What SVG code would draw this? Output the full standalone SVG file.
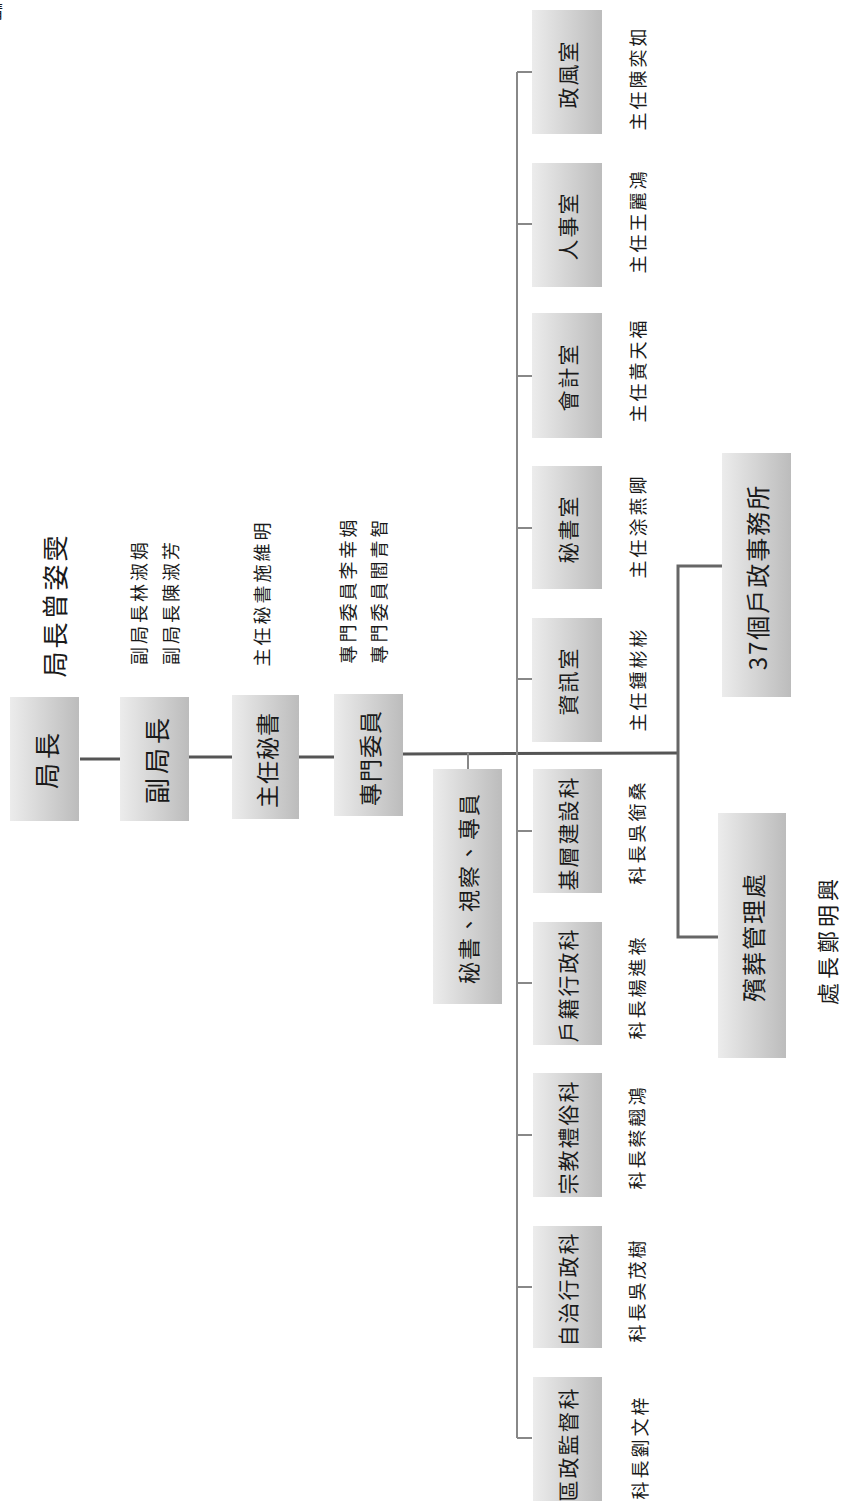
<svg xmlns="http://www.w3.org/2000/svg" width="843" height="1501" viewBox="0 0 843 1501">
<defs>
<linearGradient id="g" x1="0" y1="0" x2="1" y2="0">
<stop offset="0" stop-color="#ececec"/>
<stop offset="1" stop-color="#bcbcbc"/>
</linearGradient>
<style>
.box{fill:url(#g);}
.t{font-family:"Noto Sans CJK TC","Noto Sans CJK SC",sans-serif;fill:#1a1a1a;text-anchor:middle;dominant-baseline:central;}
.b1{font-size:26px;letter-spacing:4px;}
.b2{font-size:23px;letter-spacing:1px;}
.b3{font-size:21px;letter-spacing:2px;}
.s1{font-size:18px;letter-spacing:3px;}
.s2{font-size:18px;letter-spacing:3px;}
.c1{stroke:#555;stroke-width:3;fill:none;}
.c2{stroke:#888;stroke-width:2;fill:none;}
.c3{stroke:#666;stroke-width:3;fill:none;}
</style>
</defs>
<rect width="843" height="1501" fill="#fff"/>
<text class="t" x="-6" y="10" font-size="18">靖</text>

<g id="connectors">
<line class="c1" x1="80" y1="759" x2="120" y2="759"/>
<line class="c1" x1="189" y1="757" x2="232" y2="757"/>
<line class="c1" x1="299" y1="757" x2="334" y2="757"/>
<line class="c1" x1="403" y1="754" x2="678" y2="753"/>
<line class="c2" x1="468" y1="753" x2="468" y2="769"/>
<line class="c2" x1="517" y1="72" x2="517" y2="1438"/>
<line class="c2" x1="517" y1="72" x2="532" y2="72"/>
<line class="c2" x1="517" y1="224" x2="532" y2="224"/>
<line class="c2" x1="517" y1="376" x2="532" y2="376"/>
<line class="c2" x1="517" y1="528" x2="532" y2="528"/>
<line class="c2" x1="517" y1="679" x2="532" y2="679"/>
<line class="c2" x1="517" y1="831" x2="532" y2="831"/>
<line class="c2" x1="517" y1="983" x2="532" y2="983"/>
<line class="c2" x1="517" y1="1135" x2="532" y2="1135"/>
<line class="c2" x1="517" y1="1287" x2="532" y2="1287"/>
<line class="c2" x1="517" y1="1438" x2="532" y2="1438"/>
<polyline class="c3" points="722,566 678,566 678,937 718,937"/>
</g>

<g id="n-juzhang"><rect class="box" x="10" y="697" width="69" height="124"/><text class="t b1" transform="translate(45,759) rotate(-90)">局長</text></g>
<g id="n-fujuzhang"><rect class="box" x="120" y="697" width="69" height="124"/><text class="t b1" transform="translate(155,759) rotate(-90)">副局長</text></g>
<g id="n-zhuren"><rect class="box" x="232" y="695" width="67" height="124"/><text class="t b2" transform="translate(266,760) rotate(-90)">主任秘書</text></g>
<g id="n-zhuanmen"><rect class="box" x="334" y="694" width="69" height="122"/><text class="t b2" transform="translate(369,758) rotate(-90)">專門委員</text></g>

<g id="l-juzhang"><text class="t" font-size="26" letter-spacing="3" transform="translate(53,605) rotate(-90)">局長曾姿雯</text></g>
<g id="l-fujuzhang"><text class="t s1" transform="translate(138,602) rotate(-90)">副局長林淑娟</text><text class="t s1" transform="translate(170,602) rotate(-90)">副局長陳淑芳</text></g>
<g id="l-zhuren"><text class="t s1" transform="translate(261,593) rotate(-90)">主任秘書施維明</text></g>
<g id="l-zhuanmen"><text class="t s1" transform="translate(347,590) rotate(-90)">專門委員李幸娟</text><text class="t s1" transform="translate(378,590) rotate(-90)">專門委員閻青智</text></g>

<g id="n-mishu3"><rect class="box" x="433" y="769" width="69" height="235"/><text class="t" font-size="22" letter-spacing="2" transform="translate(467,888) rotate(-90)">秘書、視察、專員</text></g>

<g id="n-zhengfeng"><rect class="box" x="532" y="10" width="70" height="124"/><text class="t b3" transform="translate(567,74) rotate(-90)">政風室</text><text class="t s2" transform="translate(637,78) rotate(-90)">主任陳奕如</text></g>
<g id="n-renshi"><rect class="box" x="532" y="163" width="70" height="124"/><text class="t b3" transform="translate(567,226) rotate(-90)">人事室</text><text class="t s2" transform="translate(637,221) rotate(-90)">主任王麗鴻</text></g>
<g id="n-kuaiji"><rect class="box" x="532" y="313" width="70" height="125"/><text class="t b3" transform="translate(567,377) rotate(-90)">會計室</text><text class="t s2" transform="translate(637,370) rotate(-90)">主任黃天福</text></g>
<g id="n-mishu"><rect class="box" x="532" y="466" width="70" height="123"/><text class="t b3" transform="translate(567,529) rotate(-90)">秘書室</text><text class="t s2" transform="translate(637,526) rotate(-90)">主任涂燕卿</text></g>
<g id="n-zixun"><rect class="box" x="532" y="618" width="70" height="124"/><text class="t b3" transform="translate(567,681) rotate(-90)">資訊室</text><text class="t s2" transform="translate(637,679) rotate(-90)">主任鍾彬彬</text></g>
<g id="n-jiceng"><rect class="box" x="533" y="769" width="69" height="124"/><text class="t b3" transform="translate(567,833) rotate(-90)">基層建設科</text><text class="t s2" transform="translate(636,832) rotate(-90)">科長吳銜桑</text></g>
<g id="n-huji"><rect class="box" x="533" y="922" width="69" height="123"/><text class="t b3" transform="translate(567,985) rotate(-90)">戶籍行政科</text><text class="t s2" transform="translate(636,987) rotate(-90)">科長楊進祿</text></g>
<g id="n-zongjiao"><rect class="box" x="533" y="1073" width="69" height="124"/><text class="t b3" transform="translate(567,1137) rotate(-90)">宗教禮俗科</text><text class="t s2" transform="translate(636,1137) rotate(-90)">科長蔡翹鴻</text></g>
<g id="n-zizhi"><rect class="box" x="533" y="1226" width="69" height="122"/><text class="t b3" transform="translate(567,1289) rotate(-90)">自治行政科</text><text class="t s2" transform="translate(636,1290) rotate(-90)">科長吳茂樹</text></g>
<g id="n-quzheng"><rect class="box" x="533" y="1377" width="69" height="130"/><text class="t b3" transform="translate(567,1444) rotate(-90)">區政監督科</text><text class="t s2" transform="translate(639,1447) rotate(-90)">科長劉文梓</text></g>

<g id="n-huzheng"><rect class="box" x="722" y="453" width="69" height="244"/><text class="t" font-size="24" letter-spacing="2" transform="translate(756,577) rotate(-90)">37個戶政事務所</text></g>
<g id="n-binzang"><rect class="box" x="718" y="813" width="68" height="245"/><text class="t" font-size="24" letter-spacing="2" transform="translate(752,937) rotate(-90)">殯葬管理處</text><text class="t" font-size="22" letter-spacing="4" transform="translate(826,940) rotate(-90)">處長鄭明興</text></g>
</svg>
